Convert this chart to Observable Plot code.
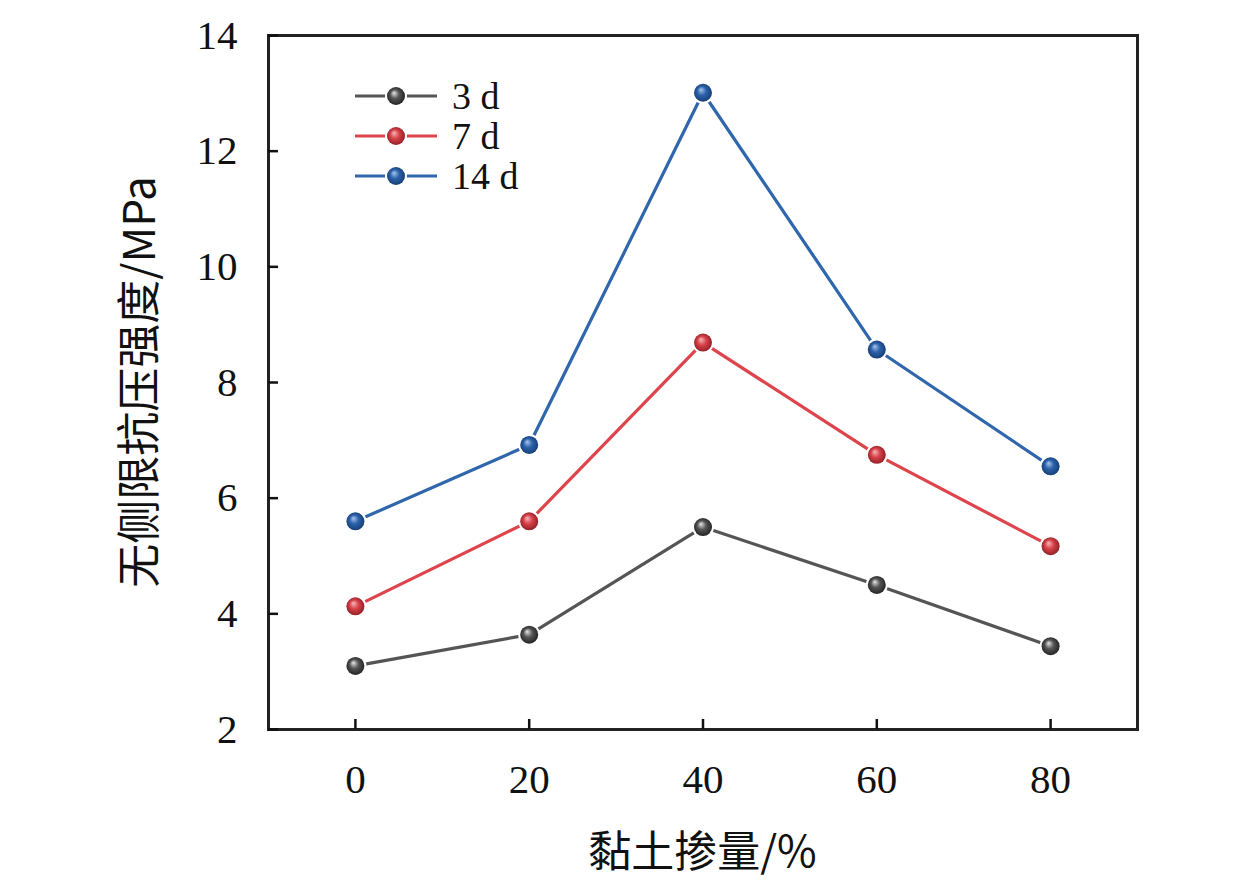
<!DOCTYPE html>
<html><head><meta charset="utf-8">
<script src="https://cdn.jsdelivr.net/npm/d3@7"></script>
<script src="https://cdn.jsdelivr.net/npm/@observablehq/plot@0.6"></script>
<style>
html,body{margin:0;padding:0;background:#fff;}
#chart svg{display:block;}
</style>
</head><body><div id="chart"></div>
<script>
const clay = [0, 20, 40, 60, 80];
const s3d = [3.10, 3.64, 5.50, 4.50, 3.44];
const s7d = [4.13, 5.60, 8.69, 6.75, 5.17];
const s14d = [5.60, 6.92, 13.01, 8.57, 6.55];
const seriesNames = ["3 d", "7 d", "14 d"];
const seriesValues = [s3d, s7d, s14d];
const lineColors = ["#555555", "#de444c", "#2f66ac"];
const ballMid = ["#555555", "#d8424a", "#2c62aa"];
const xTicks = [0, 20, 40, 60, 80];
const yTicks = [2, 4, 6, 8, 10, 12, 14];

const data = [];
seriesNames.forEach((s, i) => clay.forEach((c, j) => data.push({series: s, idx: i, clay: c, v: seriesValues[i][j]})));

const serif = "'Liberation Serif','Times New Roman',serif";
const W = 1259, H = 889, mL = 268, mR = 122, mT = 35, mB = 160;

const marks = [];
seriesNames.forEach((s, i) => {
  const d = data.filter(r => r.series === s);
  marks.push(Plot.line(d, {x: "clay", y: "v", stroke: lineColors[i], strokeWidth: 3.2}));
});
seriesNames.forEach((s, i) => {
  const d = data.filter(r => r.series === s);
  marks.push(Plot.dot(d, {x: "clay", y: "v", r: 9, fill: `url(#ball${i})`, stroke: "white", strokeWidth: 4, paintOrder: "stroke"}));
});

const fmt = d3.format("d");
const chart = Plot.plot({
  width: W, height: H,
  marginLeft: mL, marginRight: mR, marginTop: mT, marginBottom: mB,
  style: {fontFamily: serif, background: "white", color: "#111"},
  x: {domain: [-10, 90]},
  y: {domain: [2, 14]},
  marks: [
    ...marks,
    Plot.frame({stroke: "#222", strokeWidth: 3}),
    Plot.axisY(yTicks, {tickSize: -10, strokeWidth: 2.5, text: null, label: null}),
    Plot.axisY(yTicks, {tickSize: 0, tickPadding: 31, fontSize: 41, tickFormat: fmt, label: null}),
    Plot.axisX(xTicks, {tickSize: -10, strokeWidth: 2.5, text: null, label: null}),
    Plot.axisX(xTicks, {tickSize: 0, tickPadding: 34, fontSize: 41, tickFormat: fmt, label: null})
  ]
});

const svg = d3.select(chart);
const defs = svg.insert("defs", ":first-child");
const hi = ["#e6e6e6", "#f6b8bb", "#a9c6ee"];
const dark = ["#1e1e1e", "#8a1c22", "#143a70"];
ballMid.forEach((c, i) => {
  const g = defs.append("radialGradient").attr("id", `ball${i}`)
    .attr("cx", "50%").attr("cy", "50%").attr("r", "55%").attr("fx", "38%").attr("fy", "32%");
  g.append("stop").attr("offset", "0%").attr("stop-color", hi[i]);
  g.append("stop").attr("offset", "45%").attr("stop-color", c);
  g.append("stop").attr("offset", "100%").attr("stop-color", dark[i]);
});

// legend
const leg = svg.append("g").attr("text-anchor", "start");
seriesNames.forEach((s, i) => {
  const y = 96 + i * 40;
  leg.append("line").attr("x1", 355).attr("x2", 437).attr("y1", y).attr("y2", y)
    .attr("stroke", lineColors[i]).attr("stroke-width", 3.2);
  leg.append("circle").attr("cx", 396).attr("cy", y).attr("r", 9)
    .attr("fill", `url(#ball${i})`).attr("stroke", "white").attr("stroke-width", 4).attr("paint-order", "stroke");
  leg.append("text").attr("x", 452).attr("y", y).attr("dy", "0.35em").attr("text-anchor", "start")
    .attr("font-family", serif).attr("font-size", 38).attr("fill", "#111").text(s);
});

// axis titles
svg.append("text").attr("x", (mL + W - mR) / 2).attr("y", 852).attr("dy", "0.35em")
  .attr("text-anchor", "middle").attr("font-size", 43).attr("fill", "#111")
  .attr("font-family", "'Noto Sans CJK SC', sans-serif").text("黏土掺量/%");
svg.append("text").attr("transform", `translate(140,${(mT + H - mB) / 2}) rotate(-90)`).attr("dy", "0.35em")
  .attr("text-anchor", "middle").attr("font-size", 44).attr("fill", "#111")
  .attr("font-family", "'Noto Sans CJK SC', sans-serif").text("无侧限抗压强度/MPa");

document.getElementById("chart").appendChild(chart);
</script>
</body></html>
